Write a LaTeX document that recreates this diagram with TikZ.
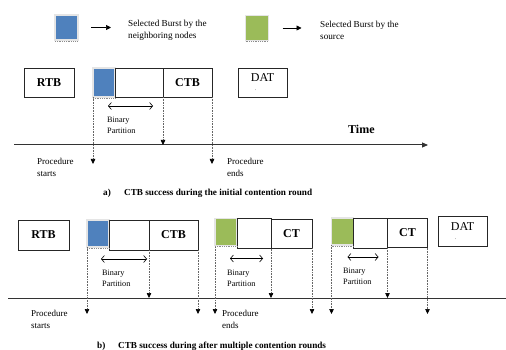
\documentclass[tikz,border=0pt]{standalone}
\usepackage{fontspec}
\setmainfont{Liberation Serif}
\usetikzlibrary{positioning, arrows.meta}
\definecolor{nbrblue}{RGB}{79,129,189}
\definecolor{srcgreen}{RGB}{155,187,89}

\begin{document}
\begin{tikzpicture}[x=1pt, y=-1pt,
		slotStyle/.style={draw=black!85, line width=0.7pt, inner sep=0pt, outer sep=0pt, minimum height=29pt},
		slot/.style={slotStyle, font=\fontsize{12}{12}\selectfont\bfseries},
		datslot/.style={slotStyle, align=left, font=\fontsize{12}{9}\selectfont},
		burst/.style={draw=black!10, line width=1.6pt, inner sep=0pt, outer sep=0pt, minimum width=22pt, minimum height=27pt},
		dropStyle/.style={densely dotted, black!60, line width=0.6pt, -{Triangle[width=4.5pt, length=5pt, black]}},
		spanStyle/.style={line width=0.6pt, {Straight Barb[length=3pt, width=7pt]}-{Straight Barb[length=3pt, width=7pt]}},
		axisStyle/.style={black!80, line width=1pt},
		keyArrow/.style={line width=0.7pt, -{Triangle[width=5pt, length=5pt]}},
		note/.style={align=left, anchor=west, inner sep=0pt, font=\fontsize{8.2}{11}\selectfont},
		legend/.style={align=left, anchor=west, inner sep=0pt, font=\fontsize{9.2}{12}\selectfont},
		label/.style={align=left, anchor=west, inner sep=0pt, font=\fontsize{9}{12}\selectfont},
		caption/.style={anchor=west, inner sep=0pt, font=\fontsize{9.2}{9}\selectfont\bfseries}]
	
	\useasboundingbox (0,0) rectangle (506,350);
	
	% legend
	\node[burst, fill=nbrblue, minimum width=23pt, minimum height=25pt] (keyNbr) at (66.5,27.5) {};
	\node[burst, fill=srcgreen, minimum width=23pt, minimum height=25pt] (keySrc) at (257,28) {};
	\node[legend] (keyNbrText) at (128,30) {Selected Burst by the\\neighboring nodes};
	\node[legend] (keySrcText) at (320,30) {Selected Burst by the\\source};
	\draw[keyArrow] ([xshift=13pt]keyNbr.east) -- ([xshift=33pt]keyNbr.east);
	\draw[keyArrow] ([xshift=14pt]keySrc.east) -- ([xshift=33pt]keySrc.east);
	
	%%%%%%%%%%% a) initial contention round
	\node[slot, minimum width=50pt] (rtbA) at (49,82.5) {RTB};
	\node[burst, fill=nbrblue, minimum height=29pt] (burstA) at (104,82.5) {};
	\node[slotStyle, right=0pt of burstA, minimum width=48pt] (partA) {};
	\node[slot, right=0pt of partA, minimum width=49pt] (ctbA) {CTB};
	\node[datslot, minimum width=49pt] (datA) at (262.5,82.5) {DAT\\\hspace*{4pt}{\fontsize{5}{5}\selectfont .}};
	
	\draw[spanStyle] ([xshift=-7pt,yshift=-9pt]partA.south west) -- ([xshift=-10pt,yshift=-9pt]partA.south east);
	\node[note] (binA) at (107,125.5) {Binary\\Partition};
	
	\coordinate (axisA0) at (14,145);
	\coordinate (axisA1) at (428,145);
	\coordinate (lowA) at (0,164);
	\draw[axisStyle, -{Triangle[width=5pt, length=6pt]}] (axisA0) -- (axisA1);
	\node[anchor=west, inner sep=0pt, font=\fontsize{12}{12}\selectfont\bfseries] (timeA) at (348,129) {Time};
	
	\draw[dropStyle] (burstA.south west) -- (burstA.south west |- lowA);
	\draw[dropStyle] (partA.south east) -- (partA.south east |- axisA0);
	\draw[dropStyle] (ctbA.south east) -- (ctbA.south east |- lowA);
	
	\node[label] (startA) at (37,167) {Procedure\\starts};
	\node[label] (endA) at (227,167) {Procedure\\ends};
	
	\node[caption] (capA) at (103,193) {a)};
	\node[caption] (capAText) at (124,193) {CTB success during the initial contention round};
	
	%%%%%%%%%%% b) multiple contention rounds
	\node[slot, minimum width=51pt, minimum height=30pt] (rtbB) at (43.5,235) {RTB};
	
	\node[burst, fill=nbrblue] (burstB) at (98,233.5) {};
	\node[slotStyle, anchor=north west, minimum width=40pt, minimum height=30pt] (partB1) at (burstB.north east) {};
	\node[slot, right=0pt of partB1, minimum width=49pt, minimum height=30pt] (ctbB) {CTB};
	
	\node[burst, fill=srcgreen] (greenB1) at (226,232) {};
	\node[slotStyle, anchor=north west, minimum width=34pt, minimum height=30pt] (partB2) at (greenB1.north east) {};
	\node[slot, right=0pt of partB2, minimum width=41pt] (ctB1) {CT};
	
	\node[burst, fill=srcgreen] (greenB2) at (342.5,231.5) {};
	\node[slotStyle, anchor=north west, minimum width=34pt, minimum height=30pt] (partB3) at (greenB2.north east) {};
	\node[slot, right=0pt of partB3, minimum width=40pt] (ctB2) {CT};
	
	\node[datslot, minimum width=49pt, minimum height=30pt] (datB) at (462.5,231) {DAT\\\hspace*{4pt}{\fontsize{5}{5}\selectfont .}};
	
	\draw[spanStyle] ([xshift=-8pt,yshift=-9pt]partB1.south west) -- ([xshift=-2pt,yshift=-9pt]partB1.south east);
	\draw[spanStyle] ([xshift=-7pt,yshift=-10pt]partB2.south west) -- ([xshift=-8pt,yshift=-10pt]partB2.south east);
	\draw[spanStyle] ([xshift=-6pt,yshift=-9pt]partB3.south west) -- ([xshift=-9pt,yshift=-9pt]partB3.south east);
	\node[note] (binB1) at (102,278) {Binary\\Partition};
	\node[note] (binB2) at (227,278) {Binary\\Partition};
	\node[note] (binB3) at (343,276) {Binary\\Partition};
	
	\coordinate (axisB0) at (8,298);
	\coordinate (axisB1) at (506,298);
	\coordinate (lowB) at (0,314);
	\draw[axisStyle] (axisB0) -- (axisB1);
	
	\foreach \from in {burstB.south west, ctbB.south east, greenB1.south west, ctB1.south east, greenB2.south west, ctB2.south east}
	\draw[dropStyle] (\from) -- (\from |- lowB);
	\foreach \from in {partB1, partB2, partB3}
	\draw[dropStyle] (\from.south east) -- (\from.south east |- axisB0);
	
	\node[label] (startB) at (31,319) {Procedure\\starts};
	\node[label] (endB) at (222,319) {Procedure\\ends};
	
	\node[caption] (capB) at (97,346) {b)};
	\node[caption] (capBText) at (118,346) {CTB success during after multiple contention rounds};
	
	% dotted lower edge of the bursts
	\foreach \b in {keyNbr, keySrc, burstA, burstB, greenB1, greenB2}
	\draw[black!45, densely dotted, line width=0.8pt] ([yshift=-1.2pt]\b.south west) -- ([yshift=-1.2pt]\b.south east);
\end{tikzpicture}
\end{document}
